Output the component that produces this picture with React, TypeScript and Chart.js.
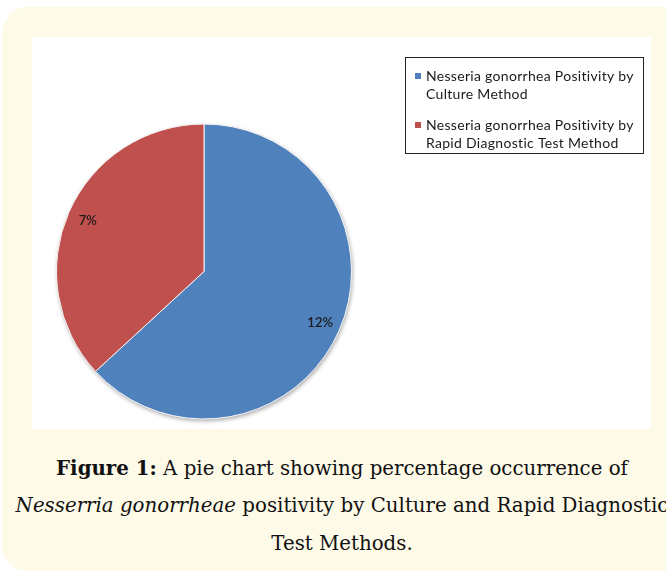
import React, { useEffect, useRef } from "react";
import { Chart, registerables } from "chart.js";

Chart.register(...registerables);

const categories: string[][] = [
  ["Nesseria gonorrhea Positivity by", "Culture Method"],
  ["Nesseria gonorrhea Positivity by", "Rapid Diagnostic Test Method"],
];
const values: number[] = [12, 7];
const valueLabels: string[] = ["12%", "7%"];
const sliceColors: string[] = ["#4F81BD", "#C0504D"];

const captionLine1Bold = "Figure 1:";
const captionLine1 = " A pie chart showing percentage occurrence of";
const captionLine2Italic = "Nesserria gonorrheae";
const captionLine2 = " positivity by Culture and Rapid Diagnostic";
const captionLine3 = "Test Methods.";

const shadowPlugin = {
  id: "pieShadow",
  beforeDatasetsDraw(chart: any) {
    const arc = chart.getDatasetMeta(0).data[0];
    if (!arc) return;
    const ctx = chart.ctx;
    ctx.save();
    ctx.shadowColor = "rgba(0,0,0,0.35)";
    ctx.shadowBlur = 4;
    ctx.shadowOffsetX = 1;
    ctx.shadowOffsetY = 2;
    ctx.beginPath();
    ctx.arc(arc.x, arc.y, arc.outerRadius, 0, Math.PI * 2);
    ctx.fillStyle = "#ffffff";
    ctx.fill();
    ctx.restore();
  },
};

const valueLabelPlugin = {
  id: "valueLabels",
  afterDatasetsDraw(chart: any) {
    const ctx = chart.ctx;
    const meta = chart.getDatasetMeta(0);
    ctx.save();
    ctx.font = "600 13px Lato";
    ctx.fillStyle = "#1a1a1a";
    ctx.textAlign = "center";
    ctx.textBaseline = "middle";
    meta.data.forEach((arc: any, i: number) => {
      const mid = (arc.startAngle + arc.endAngle) / 2;
      const r = arc.outerRadius * 0.86;
      ctx.fillText(valueLabels[i], arc.x + Math.cos(mid) * r, arc.y + Math.sin(mid) * r);
    });
    ctx.restore();
  },
};

const boxLegendPlugin = {
  id: "boxLegend",
  afterDraw(chart: any) {
    const ctx = chart.ctx;
    const labels = chart.data.labels as string[][];
    const colors = chart.data.datasets[0].backgroundColor as string[];
    const left = 373;
    const top = 20;
    const width = 238;
    const height = 96;
    ctx.save();
    ctx.strokeStyle = "#222222";
    ctx.lineWidth = 1;
    ctx.strokeRect(left + 0.5, top + 0.5, width, height);
    ctx.font = "14px Lato";
    (ctx as any).letterSpacing = "0.3px";
    ctx.textBaseline = "middle";
    ctx.textAlign = "left";
    let y = top + 19;
    labels.forEach((lines, i) => {
      ctx.fillStyle = colors[i];
      ctx.fillRect(left + 10, y - 3, 6, 6);
      ctx.fillStyle = "#1a1a1a";
      lines.forEach((line, j) => {
        ctx.fillText(line, left + 21, y + j * 18);
      });
      y += 49;
    });
    ctx.restore();
  },
};

function PieChart() {
  const ref = useRef<HTMLCanvasElement>(null);
  useEffect(() => {
    if (!ref.current) return;
    const chart = new Chart(ref.current, {
      type: "pie",
      data: {
        labels: categories as any,
        datasets: [
          {
            data: values,
            backgroundColor: sliceColors,
            borderColor: "#f4f4f4",
            borderWidth: 1,
            hoverOffset: 0,
          },
        ],
      },
      options: {
        animation: false,
        responsive: false,
        maintainAspectRatio: false,
        layout: { padding: { left: 24, right: 299, top: 86.5, bottom: 9.5 } },
        plugins: {
          legend: { display: false },
          tooltip: { enabled: false },
        },
      },
      plugins: [shadowPlugin, valueLabelPlugin, boxLegendPlugin],
    });
    return () => chart.destroy();
  }, []);
  return <canvas ref={ref} width={619} height={392} style={{ display: "block", width: 619, height: 392 }} />;
}

export default function App() {
  const captionStyle: React.CSSProperties = {
    position: "absolute",
    left: 342,
    transform: "translateX(-50%)",
    whiteSpace: "nowrap",
    fontFamily: "'DejaVu Serif', serif",
    fontSize: 19.8,
    lineHeight: "24px",
    color: "#111111",
  };
  return (
    <div style={{ position: "absolute", left: 0, top: 0, width: 666, height: 573, overflow: "hidden", background: "#ffffff" }}>
      <div
        style={{
          position: "absolute",
          left: 2,
          top: 7,
          width: 700,
          height: 564,
          borderRadius: 26,
          background: "#fefae8",
        }}
      />
      <div style={{ position: "absolute", left: 32, top: 37, width: 619, height: 392, background: "#ffffff" }}>
        <PieChart />
      </div>
      <div style={{ ...captionStyle, top: 456 }}>
        <b>{captionLine1Bold}</b>
        {captionLine1}
      </div>
      <div style={{ ...captionStyle, top: 494 }}>
        <i>{captionLine2Italic}</i>
        {captionLine2}
      </div>
      <div style={{ ...captionStyle, top: 532 }}>{captionLine3}</div>
    </div>
  );
}
